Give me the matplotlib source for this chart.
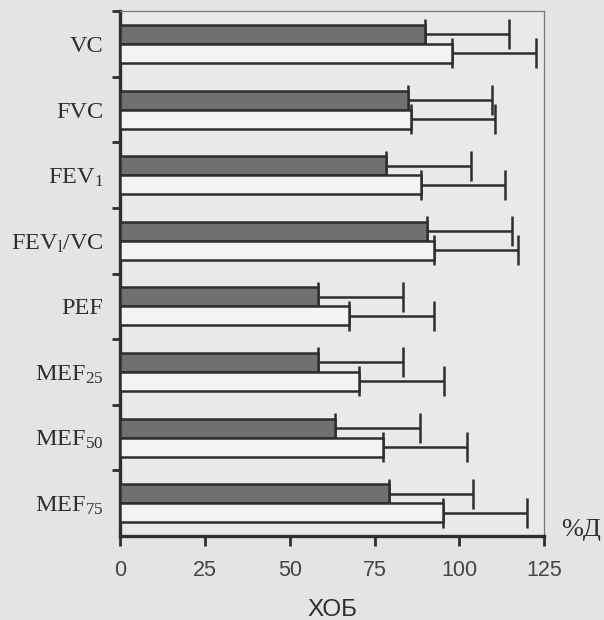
import numpy as np
import matplotlib.pyplot as plt

plt.rcParams['mathtext.fontset'] = 'custom'
plt.rcParams['mathtext.rm'] = 'Liberation Serif'
plt.rcParams['mathtext.it'] = 'Liberation Serif'

labels = ['VC', 'FVC', 'FEV$_\\mathrm{1}$', 'FEV$_\\mathrm{l}$/VC', 'PEF',
          'MEF$_\\mathrm{25}$', 'MEF$_\\mathrm{50}$', 'MEF$_\\mathrm{75}$']
dark_vals = [89.8, 84.7, 78.5, 90.5, 58.3, 58.3, 63.4, 79.3]
dark_err = [24.8, 24.8, 24.9, 25.0, 25.1, 25.1, 25.0, 24.8]
light_vals = [97.7, 85.7, 88.6, 92.5, 67.4, 70.5, 77.4, 95.2]
light_err = [24.8, 24.8, 24.8, 24.9, 25.0, 25.0, 24.9, 24.8]
xticks = [0, 25, 50, 75, 100, 125]

bg = '#e4e4e4'
ink = '#2e2e2e'

fig = plt.figure(figsize=(6.04, 6.20), dpi=100, facecolor=bg)
ax = fig.add_axes([0.199, 0.1355, 0.702, 0.8465], facecolor='#e9e9e9')

y = np.arange(len(labels))
h = 0.29
ax.barh(y - h / 2, dark_vals, height=h, color='#707070', edgecolor=ink,
        linewidth=1.8, zorder=3)
ax.barh(y + h / 2, light_vals, height=h, color='#f3f3f3', edgecolor=ink,
        linewidth=1.8, zorder=3)
ax.errorbar(dark_vals, y - h / 2, xerr=[[0] * len(y), dark_err], fmt='none',
            ecolor=ink, elinewidth=1.8, capsize=11, capthick=1.8, zorder=2)
ax.errorbar(light_vals, y + h / 2, xerr=[[0] * len(y), light_err], fmt='none',
            ecolor=ink, elinewidth=1.8, capsize=11, capthick=1.8, zorder=2)

ax.set_xlim(0, 125)
ax.set_ylim(len(labels) - 0.5, -0.5)

ax.set_xticks(xticks)
ax.set_xticklabels([str(t) for t in xticks], fontsize=15.5, color='#444444',
                   family='Liberation Sans')
ax.tick_params(axis='x', length=7, width=2, color=ink, pad=10)

ax.set_yticks(np.arange(-0.5, len(labels) - 0.5, 1))
ax.set_yticklabels([])
ax.tick_params(axis='y', which='major', length=6, width=2, color=ink)
ax.set_yticks(y, minor=True)
ax.set_yticklabels(labels, minor=True, fontsize=17.5, color=ink,
                   family='Liberation Serif')
ax.tick_params(axis='y', which='minor', length=0, pad=12)

for side in ['left', 'bottom']:
    ax.spines[side].set_linewidth(2.4)
    ax.spines[side].set_color(ink)
for side in ['top', 'right']:
    ax.spines[side].set_linewidth(0.9)
    ax.spines[side].set_color('#777777')

ax.text(1.04, 0.012, '%Д', transform=ax.transAxes, fontsize=19,
        family='Liberation Serif', color=ink, ha='left', va='center')
ax.set_xlabel('ХОБ', fontsize=17.5, family='Liberation Sans', color=ink,
              labelpad=13)

fig.savefig('out.png', dpi=100, facecolor=bg)
